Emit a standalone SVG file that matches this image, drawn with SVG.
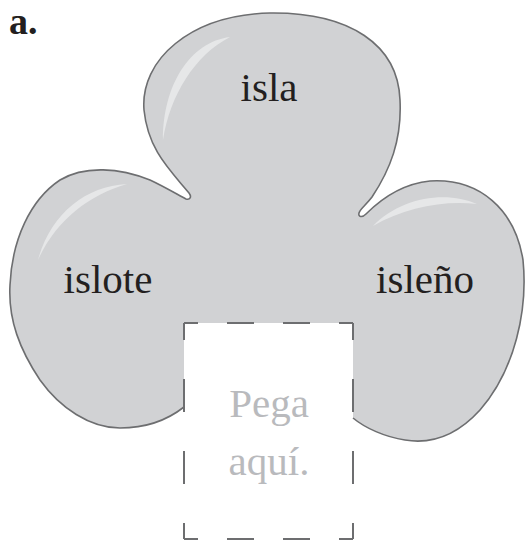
<svg xmlns="http://www.w3.org/2000/svg" width="526" height="541" viewBox="0 0 526 541">
<style>
.lbl{font-family:"Liberation Serif",serif;font-size:41px;fill:#231f20;text-anchor:middle}
.hint{font-family:"Liberation Serif",serif;font-size:41px;fill:#b9babd;text-anchor:middle}
.hl{fill:#e6e7e8}
.dh{stroke:#6d6e70;stroke-width:2;fill:none;stroke-dasharray:27 29;stroke-dashoffset:13}
.dv{stroke:#6d6e70;stroke-width:2;fill:none;stroke-dasharray:33 39;stroke-dashoffset:16}
</style>
<text x="9" y="34" font-family="Liberation Serif, serif" font-size="38" font-weight="bold" fill="#231f20">a.</text>
<g id="shape">
<path d="M184,407 C170,418 150,428 120,428 C90,428 60,408 40,380 C20,350 8,320 10,285 C12,240 30,200 60,180 C85,165 120,168 150,180 C165,187 180,196 186,199 C190,200 192,197 189,193 C170,170 148,150 144,110 C140,60 190,15 270,13 C350,12 398,45 400,100 C402,140 390,170 372,197 C366,205 360,209 359,213 C358,217 362,218 366,214 C380,200 400,184 430,181 C480,178 515,210 523,260 C528,310 515,370 480,410 C460,432 435,445 405,440 C385,437 365,428 353,418 L353,323 L184,323 Z" fill="#d1d2d4"/>
<path d="M184,407 C170,418 150,428 120,428 C90,428 60,408 40,380 C20,350 8,320 10,285 C12,240 30,200 60,180 C85,165 120,168 150,180 C165,187 180,196 186,199 C190,200 192,197 189,193 C170,170 148,150 144,110 C140,60 190,15 270,13 C350,12 398,45 400,100 C402,140 390,170 372,197 C366,205 360,209 359,213 C358,217 362,218 366,214 C380,200 400,184 430,181 C480,178 515,210 523,260 C528,310 515,370 480,410 C460,432 435,445 405,440 C385,437 365,428 353,418" fill="none" stroke="#6d6e70" stroke-width="1.6"/>
<path class="hl" d="M230,37 C190,42 163,85 163,140 C170,95 195,55 230,37 Z"/>
<path class="hl" d="M127,184 C85,186 50,215 38,260 C55,222 88,195 127,184 Z"/>
<path class="hl" d="M477,204 C445,190 400,198 373,226 C405,207 445,200 477,204 Z"/>
</g>
<g id="node-isla"><text class="lbl" x="269" y="101">isla</text></g>
<g id="node-islote"><text class="lbl" x="108" y="293">islote</text></g>
<g id="node-isleno"><text class="lbl" x="425" y="293">isleño</text></g>
<g id="node-pega">
<line class="dh" x1="184" y1="323" x2="353" y2="323"/>
<line class="dh" x1="184" y1="539" x2="353" y2="539"/>
<line class="dv" x1="184" y1="323" x2="184" y2="539"/>
<line class="dv" x1="353" y1="323" x2="353" y2="539"/>
<text class="hint" x="269" y="417">Pega</text>
<text class="hint" x="269" y="475">aquí.</text>
</g>
<g id="connectors"/>
</svg>
